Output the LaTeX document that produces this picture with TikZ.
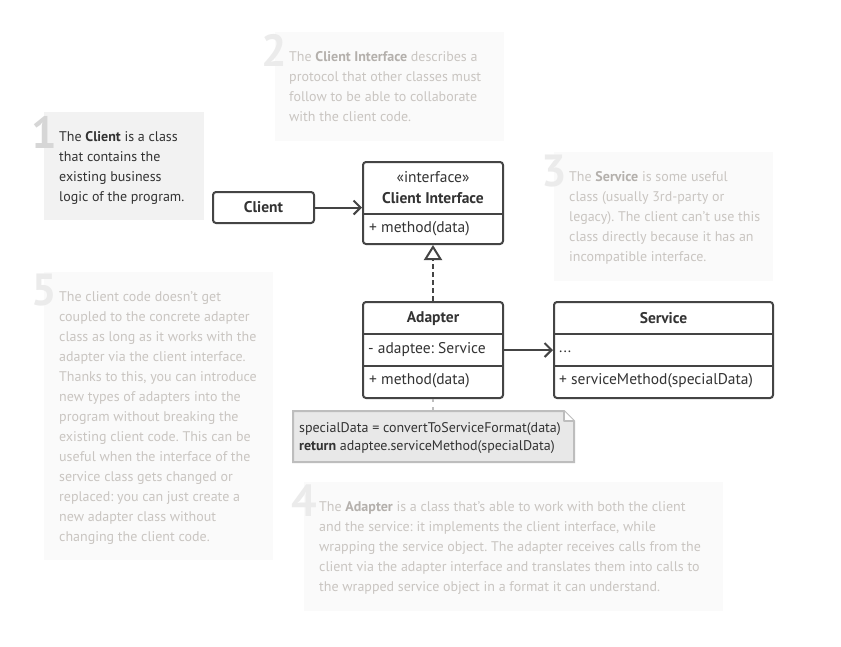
\documentclass[tikz,border=0pt]{standalone}
\usepackage{fontspec}
\setmainfont{PT Sans}
\usetikzlibrary{arrows.meta}
\definecolor{ink}{HTML}{333333}
\definecolor{edge}{HTML}{444444}
\definecolor{fadetext}{HTML}{C9C5C1}
\definecolor{fadebold}{HTML}{B4B0AC}
\definecolor{fadebg}{HTML}{FAFAFA}
\definecolor{notebg}{HTML}{F2F2F2}
\definecolor{numfade}{HTML}{EBEBEB}
\definecolor{numdark}{HTML}{D6D6D6}
\definecolor{memo}{HTML}{E8E8E8}
\definecolor{memoedge}{HTML}{BDBDBD}
\newcommand\hlb[1]{{\bfseries\color{fadebold}#1}}
\frenchspacing
\begin{document}
\begin{tikzpicture}[x=1pt,y=-1pt,
  para/.style={anchor=north west, inner sep=0pt, align=left, font=\fontsize{14}{20}\selectfont},
  fadepara/.style={para, text=fadetext},
  digit/.style={anchor=base east, inner sep=0pt, font=\fontsize{45}{45}\selectfont\bfseries},
  classbox/.style={draw=edge, line width=2pt, rounded corners=3pt, fill=white, inner sep=0pt},
  cls/.style={inner sep=0pt, text=ink, font=\fontsize{15.5}{17}\selectfont},
  clsb/.style={cls, font=\fontsize{15.5}{17}\selectfont\bfseries},
  divider/.style={draw=edge, line width=2pt},
  assoc/.style={draw=edge, line width=2pt, -{Straight Barb[length=7pt,width=14pt,line width=2pt]}},
  realize/.style={draw=edge, line width=2pt, dash pattern=on 5pt off 3pt, -{Triangle[open,length=15pt,width=18pt,line width=2pt,fill=white]}}
]
\useasboundingbox (0,0) rectangle (841,646);
\fill[white] (0,0) rectangle (841,646);

% note backgrounds
\fill[notebg] (44,112) rectangle (204,220);
\fill[fadebg] (275,32) rectangle (504,141);
\fill[fadebg] (554,152) rectangle (773,281);
\fill[fadebg] (44,272) rectangle (273,560);
\fill[fadebg] (304,482) rectangle (723,611);

% digits
\node[digit, text=numdark] (n1) at (57,148) {1};
\node[digit, text=numfade] (n2) at (287,66) {2};
\node[digit, text=numfade] (n3) at (567,186) {3};
\node[digit, text=numfade] (n4) at (317,516) {4};
\node[digit, text=numfade] (n5) at (57,305) {5};

% paragraphs
\node[para, text=ink] (t1) at (59,131.5) {The \textbf{Client} is a class\\that contains the\\existing business\\logic of the program.};
\node[fadepara] (t2) at (289,51.5) {The \hlb{Client Interface} describes a\\protocol that other classes must\\follow to be able to collaborate\\with the client code.};
\node[fadepara] (t3) at (569,171.5) {The \hlb{Service} is some useful\\class (usually 3rd-party or\\legacy). The client can’t use this\\class directly because it has an\\incompatible interface.};
\node[fadepara] (t5) at (59,291.5) {The client code doesn’t get\\coupled to the concrete adapter\\class as long as it works with the\\adapter via the client interface.\\Thanks to this, you can introduce\\new types of adapters into the\\program without breaking the\\existing client code. This can be\\useful when the interface of the\\service class gets changed or\\replaced: you can just create a\\new adapter class without\\changing the client code.};
\node[fadepara] (t4) at (319,501.5) {The \hlb{Adapter} is a class that’s able to work with both the client\\and the service: it implements the client interface, while\\wrapping the service object. The adapter receives calls from the\\client via the adapter interface and translates them into calls to\\the wrapped service object in a format it can understand.};

% class boxes
\node[classbox, minimum width=101pt, minimum height=31pt] (client) at (263.5,207.5) {};
\node[clsb] at (client.center) {Client};

\node[classbox, minimum width=140pt, minimum height=82pt] (ci) at (433,203) {};
\draw[divider] (363,214) -- (503,214);
\node[cls] at (433,177) {«interface»};
\node[clsb] at (433,198) {Client Interface};
\node[cls, anchor=west] at (369,229) {+ method(data)};

\node[classbox, minimum width=140pt, minimum height=96pt] (adapter) at (433,350) {};
\draw[divider] (363,334) -- (503,334);
\draw[divider] (363,366) -- (503,366);
\node[clsb] at (433,319) {Adapter};
\node[cls, anchor=west] at (368,350) {- adaptee: Service};
\node[cls, anchor=west] at (369,381) {+ method(data)};

\node[classbox, minimum width=219pt, minimum height=96pt] (service) at (663.5,350) {};
\draw[divider] (554,334) -- (773,334);
\draw[divider] (554,366) -- (773,366);
\node[clsb] at (663.5,318) {Service};
\node[cls, anchor=west] at (559,352) {...};
\node[cls, anchor=west] at (559,381) {+ serviceMethod(specialData)};

% memo
\coordinate (memotop) at (433,411);
\filldraw[fill=memo, draw=memoedge, line width=2pt] (293,411) -- (564,411) -- (574,421) -- (574,462) -- (293,462) -- cycle;
\filldraw[fill=white, draw=memoedge, line width=1.5pt, line join=round] (564,411) -- (564,421) -- (574,421);
\node[para, text=ink, font=\fontsize{14}{18}\selectfont] (memo) at (299,422.5) {specialData = convertToServiceFormat(data)\\\textbf{return} adaptee.serviceMethod(specialData)};

% connectors
\draw[assoc] (client.east) -- (ci.west |- client.east);
\draw[realize] (adapter.north) -- (ci.south);
\draw[assoc] (adapter.east) -- (service.west);
\draw[draw=memoedge, line width=2pt, dash pattern=on 3pt off 5pt] (adapter.south) -- (memotop);
\end{tikzpicture}
\end{document}
